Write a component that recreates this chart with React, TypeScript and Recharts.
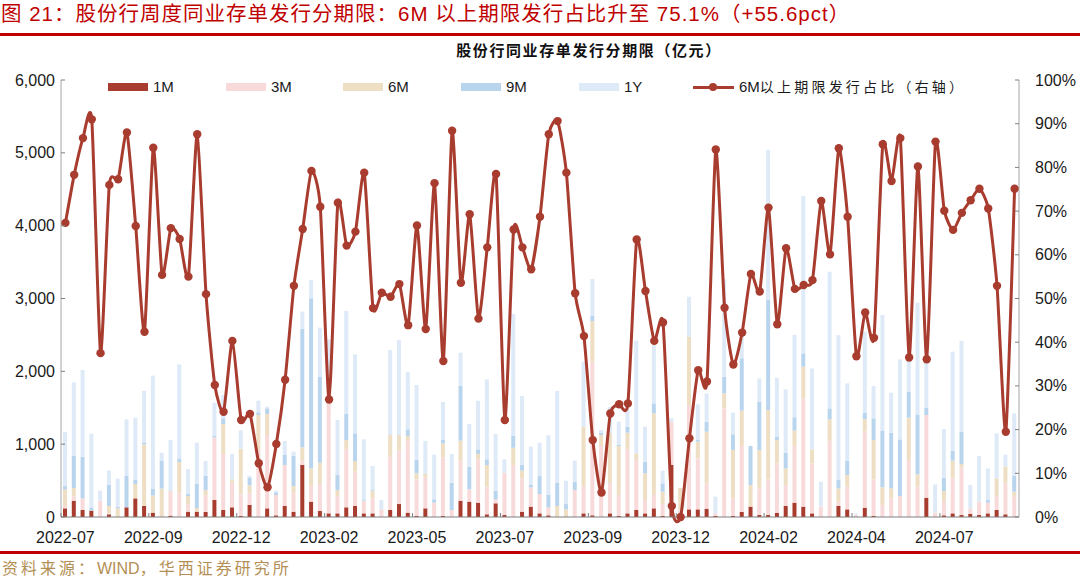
import React from 'react';
import { ComposedChart, Bar, Line, XAxis, YAxis } from 'recharts';

const tickLabels = ['2022-07', '2022-09', '2022-12', '2023-02', '2023-05', '2023-07', '2023-09', '2023-12', '2024-02', '2024-04', '2024-07'];

const m1 = [
  119, 224, 96, 87, 0, 37, 0, 133, 256, 151,
  60, 0, 18, 0, 73, 73, 69, 233, 96, 133,
  14, 165, 0, 119, 23, 151, 73, 714, 211, 82,
  50, 50, 133, 151, 50, 50, 0, 96, 178, 60,
  14, 119, 0, 14, 0, 224, 211, 197, 37, 188,
  27, 0, 73, 142, 50, 23, 0, 0, 0, 50,
  23, 0, 50, 14, 50, 96, 50, 119, 14, 714,
  0, 105, 105, 114, 14, 0, 14, 69, 142, 27,
  27, 59, 151, 197, 142, 50, 0, 0, 151, 105,
  0, 128, 14, 0, 0, 0, 0, 0, 265, 0,
  23, 50, 27, 41, 27, 50, 96, 37, 0,
];
const m3 = [
  30, 55, 160, 0, 224, 14, 0, 0, 0, 0,
  0, 0, 339, 334, 105, 0, 229, 860, 769, 343,
  297, 160, 920, 1007, 279, 563, 261, 60, 215, 371,
  1739, 229, 796, 471, 174, 206, 105, 732, 732, 988,
  503, 426, 197, 805, 96, 549, 169, 595, 380, 55,
  581, 714, 458, 265, 265, 110, 0, 0, 371, 375,
  2110, 975, 416, 288, 879, 686, 183, 183, 165, 595,
  100, 1432, 700, 348, 37, 1492, 243, 906, 0, 366,
  490, 677, 288, 778, 1487, 686, 142, 1048, 59, 311,
  32, 1043, 503, 165, 256, 288, 783, 416, 1135, 59,
  197, 490, 654, 78, 183, 146, 192, 426, 279,
];
const m6 = [
  229, 119, 0, 0, 0, 100, 119, 0, 197, 847,
  233, 389, 0, 421, 110, 50, 73, 0, 412, 41,
  627, 110, 480, 288, 0, 0, 92, 183, 243, 293,
  0, 92, 128, 146, 0, 105, 0, 297, 215, 64,
  82, 46, 0, 192, 0, 275, 0, 73, 297, 0,
  0, 238, 105, 0, 0, 0, 151, 105, 0, 815,
  558, 151, 686, 673, 229, 92, 366, 1121, 169, 0,
  300, 938, 229, 709, 0, 206, 664, 485, 297, 526,
  952, 320, 229, 211, 435, 192, 0, 293, 183, 160,
  0, 174, 540, 243, 137, 0, 581, 169, 0, 0,
  137, 233, 46, 0, 0, 0, 243, 229, 69,
];
const m9 = [
  46, 439, 572, 46, 0, 288, 23, 430, 55, 27,
  92, 380, 0, 50, 27, 330, 192, 23, 78, 0,
  0, 105, 37, 78, 37, 137, 416, 1625, 2334, 1181,
  0, 206, 357, 380, 18, 18, 0, 0, 0, 92,
  183, 0, 46, 46, 375, 750, 311, 64, 78, 119,
  0, 160, 78, 32, 247, 169, 320, 73, 115, 0,
  69, 32, 0, 14, 82, 0, 160, 137, 114, 0,
  0, 0, 23, 137, 0, 229, 215, 719, 535, 664,
  1510, 46, 215, 183, 183, 0, 0, 151, 114, 197,
  0, 87, 297, 773, 764, 778, 357, 824, 105, 0,
  183, 133, 444, 0, 0, 37, 0, 0, 215,
];
const y1 = [
  746, 1011, 1190, 1011, 137, 201, 384, 778, 856, 709,
  1556, 114, 700, 1291, 343, 567, 206, 453, 320, 348,
  252, 27, 160, 23, 23, 192, 55, 238, 252, 673,
  650, 755, 1414, 1085, 824, 320, 128, 1167, 1304, 787,
  1030, 453, 613, 522, 394, 458, 586, 668, 1098, 778,
  183, 1675, 947, 526, 458, 819, 1259, 320, 288, 892,
  508, 37, 357, 320, 320, 1547, 481, 801, 174, 46,
  0, 549, 490, 389, 229, 1336, 297, 375, 0, 320,
  2059, 810, 870, 1130, 2160, 1112, 343, 1876, 1991, 1062,
  18, 1112, 444, 1593, 549, 1098, 444, 1533, 659, 389,
  668, 1364, 1245, 320, 627, 435, 618, 163, 860,
];
const share = [
  67.3, 78.3, 86.7, 91.0, 37.5, 76.0, 77.3, 88.0, 66.6, 42.4,
  84.5, 55.4, 66.1, 63.6, 55.0, 87.6, 51.0, 30.2, 24.1, 40.3,
  22.2, 23.6, 12.3, 6.8, 16.7, 31.4, 52.9, 65.9, 79.2, 71.0,
  26.9, 71.9, 62.1, 65.3, 78.8, 47.8, 51.3, 50.4, 53.3, 43.9,
  66.7, 43.0, 76.4, 35.7, 88.4, 53.6, 69.3, 45.4, 61.7, 78.5,
  22.2, 65.8, 61.7, 56.7, 68.7, 87.6, 90.6, 78.8, 51.2, 41.4,
  17.6, 5.6, 23.7, 25.8, 26.0, 63.5, 51.7, 40.3, 44.5, 2.5,
  0.0, 18.0, 33.6, 31.0, 84.1, 47.9, 34.9, 42.2, 55.6, 51.6,
  70.8, 44.1, 61.5, 52.2, 53.1, 54.2, 72.3, 60.1, 84.4, 68.7,
  36.8, 46.8, 41.0, 85.3, 76.9, 86.7, 36.5, 80.2, 36.1, 85.9,
  70.1, 65.7, 69.6, 72.5, 75.1, 70.6, 52.9, 19.5, 75.1,
];

const leftTicks = [0, 1000, 2000, 3000, 4000, 5000, 6000];
const rightTicks = [0, 10, 20, 30, 40, 50, 60, 70, 80, 90, 100];

const C1M = '#A83C2E';
const C3M = '#F8DADA';
const C6M = '#EEDEC4';
const C9M = '#B9D5EE';
const C1Y = '#DEEAF7';
const LINE = '#A83C2E';

const data = m1.map((v, i) => ({
  week: i,
  m1: v,
  m3: m3[i],
  m6: m6[i],
  m9: m9[i],
  y1: y1[i],
  share: share[i],
}));

const W = 1080;
const H = 582;
const PLOT_L = 61;
const PLOT_R = 1019;
const BAND = (PLOT_R - PLOT_L) / data.length;
const NUM_FONT = '"Liberation Sans", Arial, "Noto Sans CJK SC", sans-serif';
const CJK_FONT = '"Liberation Sans", "Noto Sans CJK SC", sans-serif';
const SMOOTH = 1 / 10;

// Excel-style smoothed line (mild Catmull-Rom)
const excelCurve = (context: any) => {
  let pts: number[][] = [];
  return {
    areaStart() {},
    areaEnd() {},
    lineStart() {
      pts = [];
    },
    lineEnd() {
      if (!pts.length) return;
      context.moveTo(pts[0][0], pts[0][1]);
      for (let i = 0; i < pts.length - 1; i++) {
        const p0 = pts[i - 1] || pts[i];
        const p1 = pts[i];
        const p2 = pts[i + 1];
        const p3 = pts[i + 2] || p2;
        context.bezierCurveTo(
          p1[0] + (p2[0] - p0[0]) * SMOOTH,
          p1[1] + (p2[1] - p0[1]) * SMOOTH,
          p2[0] - (p3[0] - p1[0]) * SMOOTH,
          p2[1] - (p3[1] - p1[1]) * SMOOTH,
          p2[0],
          p2[1]
        );
      }
    },
    point(x: number, y: number) {
      pts.push([+x, +y]);
    },
  };
};

const XTick = (props: any) => {
  const { x, y, payload } = props;
  const idx = Number(payload.value);
  if (idx % 10 !== 0) return null;
  const label = tickLabels[idx / 10];
  return (
    <g>
      <line x1={x - BAND / 2} x2={x - BAND / 2} y1={y} y2={y - 4} stroke="#7f7f7f" />
      <text x={x} y={y + 26} textAnchor="middle" fontSize={16} fill="#1a1a1a" fontFamily={NUM_FONT}>
        {label}
      </text>
    </g>
  );
};

const LeftTick = (props: any) => {
  const { x, y, payload } = props;
  return (
    <g>
      <line x1={x} x2={x + 4} y1={y} y2={y} stroke="#7f7f7f" />
      <text x={x - 6} y={y} dy={5.5} textAnchor="end" fontSize={16} fill="#1a1a1a" fontFamily={NUM_FONT}>
        {Number(payload.value).toLocaleString('en-US')}
      </text>
    </g>
  );
};

const RightTick = (props: any) => {
  const { x, y, payload } = props;
  return (
    <g>
      <line x1={x} x2={x - 4} y1={y} y2={y} stroke="#7f7f7f" />
      <text x={x + 16} y={y} dy={5.5} textAnchor="start" fontSize={16} fill="#1a1a1a" fontFamily={NUM_FONT}>
        {payload.value}%
      </text>
    </g>
  );
};

const legendItems = [
  { label: '1M', color: C1M, x: 108 },
  { label: '3M', color: C3M, x: 226 },
  { label: '6M', color: C6M, x: 343 },
  { label: '9M', color: C9M, x: 461 },
  { label: '1Y', color: C1Y, x: 579 },
];

export default function App() {
  return (
    <div
      style={{
        position: 'absolute',
        left: 0,
        top: 0,
        width: W,
        height: H,
        background: '#fff',
        overflow: 'hidden',
        fontFamily: CJK_FONT,
      }}
    >
      <div style={{ position: 'absolute', left: 0, top: 0 }}>
        <ComposedChart
          width={W}
          height={H}
          data={data}
          margin={{ top: 80, right: 0, bottom: 35, left: 0 }}
          barCategoryGap={0}
        >
          <XAxis
            dataKey="week"
            type="category"
            height={30}
            interval={0}
            tick={<XTick />}
            tickLine={false}
            tickSize={0}
            tickMargin={0}
            axisLine={{ stroke: '#7f7f7f' }}
          />
          <YAxis
            yAxisId="left"
            orientation="left"
            width={PLOT_L}
            domain={[0, 6000]}
            ticks={leftTicks}
            interval={0}
            tick={<LeftTick />}
            tickLine={false}
            tickSize={0}
            tickMargin={0}
            axisLine={{ stroke: '#a6a6a6' }}
          />
          <YAxis
            yAxisId="right"
            orientation="right"
            width={W - PLOT_R}
            domain={[0, 100]}
            ticks={rightTicks}
            interval={0}
            tick={<RightTick />}
            tickLine={false}
            tickSize={0}
            tickMargin={0}
            axisLine={{ stroke: '#a6a6a6' }}
          />
          <Bar yAxisId="left" dataKey="m1" stackId="a" fill={C1M} barSize={4} isAnimationActive={false} />
          <Bar yAxisId="left" dataKey="m3" stackId="a" fill={C3M} barSize={4} isAnimationActive={false} />
          <Bar yAxisId="left" dataKey="m6" stackId="a" fill={C6M} barSize={4} isAnimationActive={false} />
          <Bar yAxisId="left" dataKey="m9" stackId="a" fill={C9M} barSize={4} isAnimationActive={false} />
          <Bar yAxisId="left" dataKey="y1" stackId="a" fill={C1Y} barSize={4} isAnimationActive={false} />
          <Line
            yAxisId="right"
            dataKey="share"
            type={excelCurve as any}
            stroke={LINE}
            strokeWidth={3}
            dot={{ r: 4.2, fill: LINE, stroke: LINE, strokeWidth: 0 }}
            activeDot={false}
            isAnimationActive={false}
          />
        </ComposedChart>
      </div>

      {/* Title */}
      <div
        style={{
          position: 'absolute',
          left: 1,
          top: 2,
          fontSize: 20.5,
          letterSpacing: 1.0,
          color: '#C00000',
          whiteSpace: 'nowrap',
          lineHeight: '24px',
        }}
      >
        图 21：股份行周度同业存单发行分期限：6M 以上期限发行占比升至 75.1%（+55.6pct）
      </div>
      <div style={{ position: 'absolute', left: 0, top: 33, width: W, height: 3, background: '#C00000' }} />

      {/* Subtitle */}
      <div
        style={{
          position: 'absolute',
          left: 389,
          width: 400,
          top: 40,
          textAlign: 'center',
          fontSize: 15,
          fontWeight: 700,
          letterSpacing: 1.6,
          color: '#111',
          lineHeight: '22px',
          whiteSpace: 'nowrap',
        }}
      >
        股份行同业存单发行分期限（亿元）
      </div>

      {/* Legend */}
      {legendItems.map((it) => (
        <React.Fragment key={it.label}>
          <div style={{ position: 'absolute', left: it.x, top: 83, width: 40, height: 8, background: it.color }} />
          <div
            style={{
              position: 'absolute',
              left: it.x + 45,
              top: 77,
              fontSize: 15,
              lineHeight: '20px',
              color: '#1a1a1a',
              fontFamily: NUM_FONT,
            }}
          >
            {it.label}
          </div>
        </React.Fragment>
      ))}
      <div style={{ position: 'absolute', left: 693, top: 85.5, width: 41, height: 3, background: LINE }} />
      <div
        style={{
          position: 'absolute',
          left: 709,
          top: 83,
          width: 8,
          height: 8,
          borderRadius: 4,
          background: LINE,
        }}
      />
      <div
        style={{
          position: 'absolute',
          left: 739,
          top: 77,
          fontSize: 14,
          lineHeight: '20px',
          color: '#1a1a1a',
          whiteSpace: 'nowrap',
        }}
      >
        <span style={{ fontSize: 15, fontFamily: NUM_FONT }}>6M</span>
        <span style={{ letterSpacing: 3.2 }}>以上期限发行占比（右轴）</span>
      </div>

      {/* Footer */}
      <div style={{ position: 'absolute', left: 0, top: 551, width: W, height: 3, background: '#C00000' }} />
      <div
        style={{
          position: 'absolute',
          left: 2,
          top: 558,
          fontSize: 16,
          color: '#B48F55',
          lineHeight: '22px',
          whiteSpace: 'nowrap',
        }}
      >
        <span style={{ letterSpacing: 3 }}>资料来源：</span>
        <span>WIND</span>
        <span style={{ letterSpacing: 3 }}>，华西证券研究所</span>
      </div>
    </div>
  );
}
